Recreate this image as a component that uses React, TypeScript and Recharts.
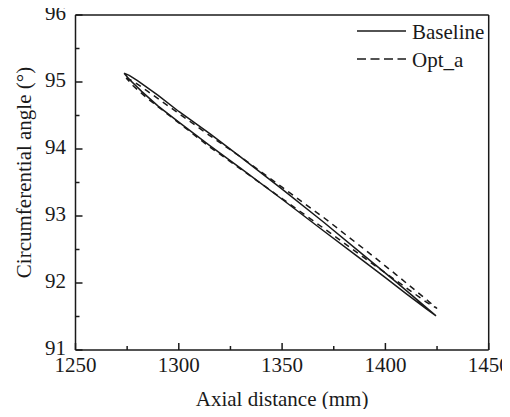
import React from 'react';
import { ScatterChart, Scatter, XAxis, YAxis, ReferenceLine } from 'recharts';

const FONT = '"Liberation Serif", "Times New Roman", serif';
const INK = '#1a1a1a';

const xTicks = [1250, 1275, 1300, 1325, 1350, 1375, 1400, 1425, 1450];
const yTicks = [91, 91.5, 92, 92.5, 93, 93.5, 94, 94.5, 95, 95.5, 96];

// blade section outlines, leading edge -> upper side -> trailing edge -> lower side -> leading edge
const baselineX = [1273.5, 1276, 1280, 1290, 1300, 1315, 1330, 1350, 1370, 1390, 1405, 1415, 1424.5,
    1420, 1410, 1400, 1385, 1370, 1350, 1330, 1315, 1300, 1290, 1282, 1276, 1273.5];
const baselineY = [95.13, 95.1, 95.02, 94.8, 94.56, 94.23, 93.88, 93.4, 92.91, 92.4, 92.02, 91.76, 91.51,
    91.61, 91.84, 92.08, 92.43, 92.78, 93.25, 93.71, 94.05, 94.4, 94.64, 94.86, 95.04, 95.13];

const optX = [1274.5, 1278, 1285, 1300, 1315, 1330, 1350, 1370, 1390, 1405, 1418, 1425,
    1420, 1405, 1390, 1370, 1350, 1330, 1315, 1300, 1285, 1278, 1274.5];
const optY = [95.06, 95.01, 94.86, 94.53, 94.2, 93.88, 93.43, 92.98, 92.5, 92.13, 91.8, 91.62,
    91.71, 92.04, 92.37, 92.82, 93.26, 93.7, 94.03, 94.39, 94.75, 94.94, 95.06];

const zip = (xs: number[], ys: number[]) => xs.map((x, i) => ({ x, y: ys[i] }));
const baselineData = zip(baselineX, baselineY);
const optData = zip(optX, optY);

const NoDot = () => <g />;

const XTick = (props: any) => {
    const { x, y, payload } = props;
    const major = payload.value % 50 === 0;
    return (
        <g>
            <line x1={x} x2={x} y1={y} y2={y - (major ? 7 : 4)} stroke={INK} strokeWidth={1.5} />
            {major && (
                <text x={x} y={y + 22} textAnchor="middle" fontFamily={FONT} fontSize={21} fill={INK}>
                    {payload.value}
                </text>
            )}
        </g>
    );
};

const YTick = (props: any) => {
    const { x, y, payload } = props;
    const major = Number.isInteger(payload.value);
    return (
        <g>
            <line x1={x} x2={x + (major ? 7 : 4)} y1={y} y2={y} stroke={INK} strokeWidth={1.5} />
            {major && (
                <text x={x - 9.5} y={y + 5} textAnchor="end" fontFamily={FONT} fontSize={21} fill={INK}>
                    {payload.value}
                </text>
            )}
        </g>
    );
};

const LegendBox = () => (
    <svg width={150} height={60} style={{ position: 'absolute', left: 347, top: 20 }}>
        <line x1={2} x2={51} y1={11} y2={11} stroke={INK} strokeWidth={1.5} />
        <text x={57} y={19} fontFamily={FONT} fontSize={21} fill={INK}>Baseline</text>
        <line x1={2} x2={51} y1={39} y2={39} stroke={INK} strokeWidth={1.5} strokeDasharray="9 4.5" />
        <text x={57} y={47} fontFamily={FONT} fontSize={21} fill={INK}>Opt_a</text>
    </svg>
);

export default function App() {
    return (
        <div style={{ position: 'relative', width: 502, height: 409, marginTop: -8 }}>
            <style>{'.recharts-surface { overflow: visible; }'}</style>
            <ScatterChart width={502} height={409} margin={{ top: 15, right: 21.3, bottom: 0, left: 0 }}>
                <XAxis
                    type="number"
                    dataKey="x"
                    domain={[1250, 1450]}
                    ticks={xTicks}
                    interval={0}
                    tickSize={0}
                    tickMargin={0}
                    tickLine={false}
                    tick={<XTick />}
                    height={59}
                    axisLine={{ stroke: INK, strokeWidth: 1.5 }}
                    allowDataOverflow
                    label={{
                        content: (p: any) => (
                            <text x={p.viewBox.x + p.viewBox.width / 2} y={p.viewBox.y + 56} textAnchor="middle"
                                fontFamily={FONT} fontSize={21} fill={INK}>Axial distance (mm)</text>
                        ),
                    }}
                />
                <YAxis
                    type="number"
                    dataKey="y"
                    domain={[91, 96]}
                    ticks={yTicks}
                    interval={0}
                    tickSize={0}
                    tickMargin={0}
                    tickLine={false}
                    tick={<YTick />}
                    width={67.5}
                    axisLine={{ stroke: INK, strokeWidth: 1.5 }}
                    allowDataOverflow
                    label={{
                        content: () => (
                            <text x={23} y={172.5} transform="rotate(-90 23 172.5)" textAnchor="middle"
                                fontFamily={FONT} fontSize={21} fill={INK}>Circumferential angle (°)</text>
                        ),
                    }}
                />
                <ReferenceLine y={96} stroke={INK} strokeWidth={1.5} />
                <ReferenceLine x={1450} stroke={INK} strokeWidth={1.5} />
                <Scatter
                    name="Baseline"
                    data={baselineData}
                    line={{ stroke: INK, strokeWidth: 1.5 }}
                    lineType="joint"
                    shape={<NoDot />}
                    isAnimationActive={false}
                />
                <Scatter
                    name="Opt_a"
                    data={optData}
                    line={{ stroke: INK, strokeWidth: 1.5, strokeDasharray: '6 5' }}
                    lineType="joint"
                    shape={<NoDot />}
                    isAnimationActive={false}
                />
            </ScatterChart>
            <LegendBox />
        </div>
    );
}
